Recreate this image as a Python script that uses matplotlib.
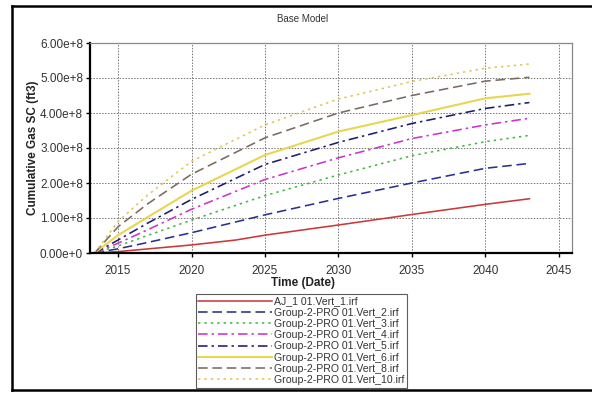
import matplotlib
matplotlib.use("Agg")
import matplotlib.pyplot as plt
from matplotlib.lines import Line2D

plt.rcParams['font.family'] = ['Liberation Sans', 'DejaVu Sans']

years = [2013.4, 2015, 2017, 2020, 2025, 2030, 2035, 2040, 2043]
red_years = [2013.4, 2015, 2020, 2023, 2025, 2030, 2035, 2040, 2043]

aj1 = [0, 0.04, 0.23, 0.37, 0.51, 0.80, 1.10, 1.39, 1.55]
vert2 = [0, 0.12, 0.30, 0.58, 1.09, 1.56, 2.00, 2.42, 2.56]
vert3 = [0, 0.20, 0.50, 0.94, 1.64, 2.23, 2.78, 3.18, 3.36]
vert4 = [0, 0.28, 0.66, 1.25, 2.10, 2.72, 3.27, 3.66, 3.85]
vert5 = [0, 0.37, 0.85, 1.53, 2.53, 3.16, 3.70, 4.13, 4.30]
vert6 = [0, 0.51, 1.02, 1.78, 2.80, 3.47, 3.94, 4.42, 4.55]
vert8 = [0, 0.75, 1.40, 2.25, 3.29, 4.00, 4.50, 4.91, 5.02]
vert10 = [0, 0.90, 1.65, 2.62, 3.66, 4.40, 4.90, 5.28, 5.40]

labels = ["AJ_1 01.Vert_1.irf",
          "Group-2-PRO 01.Vert_2.irf",
          "Group-2-PRO 01.Vert_3.irf",
          "Group-2-PRO 01.Vert_4.irf",
          "Group-2-PRO 01.Vert_5.irf",
          "Group-2-PRO 01.Vert_6.irf",
          "Group-2-PRO 01.Vert_8.irf",
          "Group-2-PRO 01.Vert_10.irf"]

yticks = [0, 1, 2, 3, 4, 5, 6]
ytick_labels = ["0.00e+0", "1.00e+8", "2.00e+8", "3.00e+8", "4.00e+8", "5.00e+8", "6.00e+8"]
xticks = [2015, 2020, 2025, 2030, 2035, 2040, 2045]

W, H = 592, 393
fig = plt.figure(figsize=(W/100, H/100), dpi=100)
ax = fig.add_axes([90/W, 1-253/H, (572-90)/W, (253-43)/H])

series = [
    (red_years, aj1, dict(color='#cc3838', ls='-', lw=1.15)),
    (years, vert2, dict(color='#2b2f8f', ls=(0, (6, 3)), lw=1.15)),
    (years, vert3, dict(color='#44b844', ls=(0, (1.5, 2.5)), lw=1.15)),
    (years, vert4, dict(color='#cc33cc', ls=(0, (6, 2.5, 1.5, 2.5)), lw=1.15)),
    (years, vert5, dict(color='#1c1c6e', ls=(0, (6, 2.5, 1.5, 2.5)), lw=1.15)),
    (years, vert6, dict(color='#e8d650', ls='-', lw=1.5)),
    (years, vert8, dict(color='#7a6a62', ls=(0, (6, 3)), lw=1.15)),
    (years, vert10, dict(color='#e0c658', ls=(0, (1.5, 2.5)), lw=1.15)),
]
handles = []
for (xs, ys, st), lab in zip(series, labels):
    ln, = ax.plot(xs, ys, label=lab, **st)
    handles.append(ln)

ax.set_xlim(2013.09, 2045.9)
ax.set_ylim(0, 6)
ax.set_yticks(yticks)
ax.set_yticklabels(ytick_labels)
ax.set_xticks(xticks)
ax.grid(True, color='#777777', ls=(0, (1.5, 1.5)), lw=0.7)
for s in ['left', 'bottom']:
    ax.spines[s].set_color('black')
    ax.spines[s].set_linewidth(1.6)
for s in ['top', 'right']:
    ax.spines[s].set_color('#888888')
    ax.spines[s].set_linewidth(0.9)
ax.tick_params(direction='out', length=3, width=1, labelsize=8.5, colors='black',
               labelcolor='#333333', pad=2)
ax.tick_params(axis='x', pad=6)

fig.text(303/W, 1-19/H, "Base Model", ha='center', va='center', fontsize=7, color='#333333')
fig.text(303/W, 1-283/H, "Time (Date)", ha='center', va='center', fontsize=8.5,
         fontweight='bold', color='#222222')
fig.text(33/W, 1-148/H, "Cumulative Gas SC (ft3)", ha='center', va='center', fontsize=8.5,
         fontweight='bold', color='#222222', rotation=90)

leg = fig.legend(handles=handles, loc='upper left', bbox_to_anchor=(196/W, 1-294/H),
                 fontsize=7.6, frameon=True, fancybox=False, handlelength=7.0,
                 handletextpad=0.2, labelspacing=0.12, borderpad=0.22, borderaxespad=0)
leg.get_frame().set_edgecolor('#333333')
leg.get_frame().set_linewidth(0.8)
for t in leg.get_texts():
    t.set_color('#333333')

# outer frame
fig.add_artist(Line2D([12/W, 12/W], [1-6/H, 1-390/H], color='black', lw=1.8, transform=fig.transFigure))
fig.add_artist(Line2D([12/W, 1], [1-6/H, 1-6/H], color='black', lw=1.8, transform=fig.transFigure))
fig.add_artist(Line2D([12/W, 1], [1-390/H, 1-390/H], color='black', lw=1.8, transform=fig.transFigure))

fig.savefig("out.png", dpi=100)
